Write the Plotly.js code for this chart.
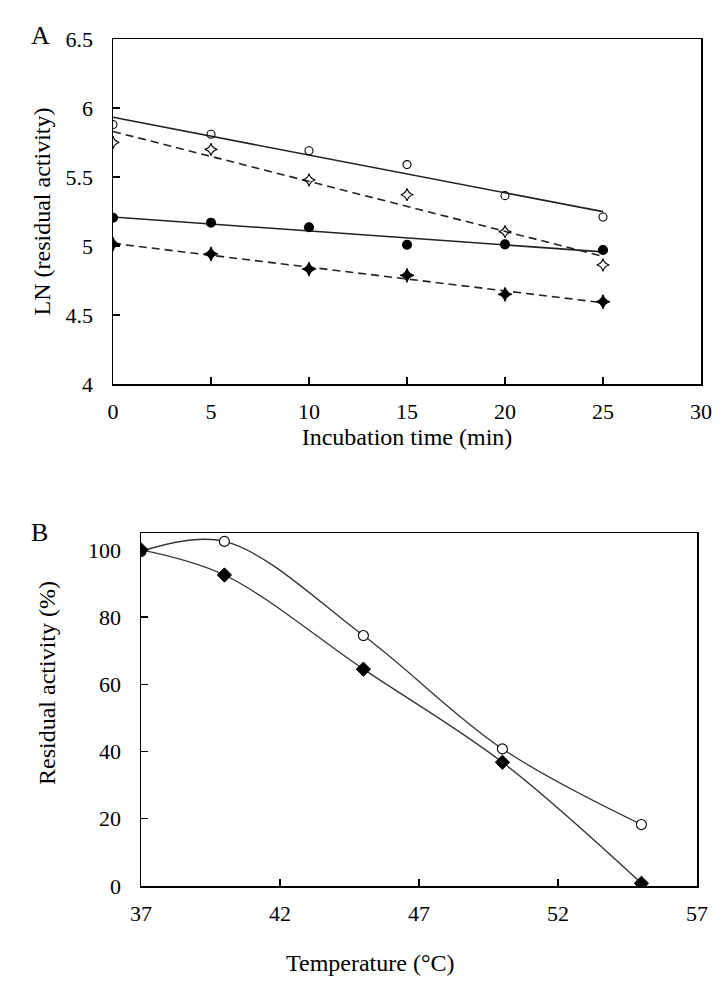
<!DOCTYPE html>
<html>
<head>
<meta charset="utf-8">
<script src="https://cdn.plot.ly/plotly-3.0.1.min.js"></script>
<style>html,body{margin:0;padding:0;background:#fff;}#chart{width:726px;height:985px;}</style>
</head>
<body>
<div id="chart"></div>
<script>
// ---- Panel A data: LN(residual activity) vs incubation time (min)
const timeA = [0, 5, 10, 15, 20, 25];
const openCircleA = [5.88, 5.81, 5.69, 5.59, 5.365, 5.21];
const openDiamondA = [5.75, 5.70, 5.478, 5.372, 5.104, 4.862];
const filledCircleA = [5.205, 5.169, 5.136, 5.009, 5.012, 4.971];
const filledDiamondA = [5.014, 4.942, 4.833, 4.788, 4.650, 4.596];
const xTicksA = [0, 5, 10, 15, 20, 25, 30];
const yTicksA = [4, 4.5, 5, 5.5, 6, 6.5];

// ---- Panel B data: residual activity (%) vs temperature (°C)
const tempB = [37, 40, 45, 50, 55];
const openCircleB = [99.5, 102.5, 74.5, 40.8, 18.3];
const filledDiamondB = [100, 92.5, 64.5, 36.8, 0.8];
const xTicksB = [37, 42, 47, 52, 57];
const yTicksB = [0, 20, 40, 60, 80, 100];

// least-squares trend line through the measured points
function trend(x, y) {
  const n = x.length;
  const mx = x.reduce((a, b) => a + b, 0) / n;
  const my = y.reduce((a, b) => a + b, 0) / n;
  let sxy = 0, sxx = 0;
  for (let i = 0; i < n; i++) { sxy += (x[i] - mx) * (y[i] - my); sxx += (x[i] - mx) ** 2; }
  const m = sxy / sxx, c = my - m * mx;
  const xs = [Math.min(...x), Math.max(...x)];
  return { x: xs, y: xs.map(v => m * v + c) };
}

const W = 726, H = 985;
const px = v => v / W, py = v => 1 - v / H;
const serif = '"Liberation Serif", "Times New Roman", Times, serif';
const lineCol = '#222';

const seriesA = [
  { y: openCircleA, symbol: 'circle-open', dash: 'solid', size: 8 },
  { y: openDiamondA, symbol: 'star-diamond-open', dash: '8px,5px', size: 9 },
  { y: filledCircleA, symbol: 'circle', dash: 'solid', size: 9 },
  { y: filledDiamondA, symbol: 'star-diamond', dash: '8px,5px', size: 10 }
];

const traces = [];
seriesA.forEach(s => {
  const t = trend(timeA, s.y);
  traces.push({ x: t.x, y: t.y, xaxis: 'x', yaxis: 'y', mode: 'lines', showlegend: false,
    hoverinfo: 'skip', line: { color: lineCol, width: 1.6, dash: s.dash } });
});
seriesA.forEach(s => {
  traces.push({ x: timeA, y: s.y, xaxis: 'x', yaxis: 'y', mode: 'markers', showlegend: false,
    marker: { symbol: s.symbol, size: s.size, color: '#000',
      line: { color: '#000', width: 1.1 } } });
});

traces.push({ x: tempB, y: openCircleB, xaxis: 'x2', yaxis: 'y2', mode: 'lines+markers', showlegend: false,
  line: { color: '#333', width: 1.3, shape: 'spline', smoothing: 1 },
  marker: { symbol: 'circle', size: 10, color: '#fff', line: { color: '#000', width: 1.1 } } });
traces.push({ x: tempB, y: filledDiamondB, xaxis: 'x2', yaxis: 'y2', mode: 'lines+markers', showlegend: false,
  line: { color: '#333', width: 1.3, shape: 'spline', smoothing: 1 },
  marker: { symbol: 'diamond', size: 11, color: '#000', line: { color: '#000', width: 1 } } });

const tickFont = { family: serif, size: 22, color: '#000' };
const titleFont = { family: serif, size: 24, color: '#000' };
const axisBase = {
  showline: true, mirror: true, linecolor: '#000', linewidth: 1.5,
  ticks: 'inside', ticklen: 7, tickwidth: 1.3, tickcolor: '#000',
  showgrid: false, zeroline: false, tickfont: tickFont, tickmode: 'array'
};

const layout = {
  width: W, height: H, margin: { l: 0, r: 0, t: 0, b: 0 },
  paper_bgcolor: '#fff', plot_bgcolor: '#fff',
  font: { family: serif, color: '#000' },
  xaxis: Object.assign({}, axisBase, {
    domain: [px(113), px(701)], range: [0, 30], tickvals: xTicksA, ticktext: xTicksA.map(String),
    anchor: 'y', ticklabelstandoff: 7,
    title: { text: 'Incubation time (min)', font: titleFont, standoff: 4 }
  }),
  yaxis: Object.assign({}, axisBase, {
    domain: [py(384), py(39)], range: [4, 6.5], tickvals: yTicksA, ticktext: yTicksA.map(String),
    anchor: 'x', ticklabelstandoff: 14,
    title: { text: 'LN (residual activity)', font: titleFont, standoff: 8 }
  }),
  xaxis2: Object.assign({}, axisBase, {
    domain: [px(141), px(697)], range: [37, 57], tickvals: xTicksB, ticktext: xTicksB.map(String),
    anchor: 'y2', ticklabelstandoff: 7
  }),
  yaxis2: Object.assign({}, axisBase, {
    domain: [py(886), py(533)], range: [0, 105], tickvals: yTicksB, ticktext: yTicksB.map(String),
    anchor: 'x2', ticklabelstandoff: 14
  }),
  annotations: [
    { text: 'A', xref: 'paper', yref: 'paper', x: px(40), y: py(36), showarrow: false,
      font: { family: serif, size: 26, color: '#000' }, xanchor: 'center', yanchor: 'middle' },
    { text: 'B', xref: 'paper', yref: 'paper', x: px(39), y: py(532), showarrow: false,
      font: { family: serif, size: 26, color: '#000' }, xanchor: 'center', yanchor: 'middle' },
    { text: 'Temperature (°C)', xref: 'paper', yref: 'paper', x: px(370), y: py(963), showarrow: false,
      font: titleFont, xanchor: 'center', yanchor: 'middle' },
    { text: 'Residual activity (%)', xref: 'paper', yref: 'paper', x: px(47), y: py(683), showarrow: false,
      textangle: -90, font: titleFont, xanchor: 'center', yanchor: 'middle' }
  ]
};

Plotly.newPlot('chart', traces, layout, { staticPlot: true, displayModeBar: false });
</script>
</body>
</html>
